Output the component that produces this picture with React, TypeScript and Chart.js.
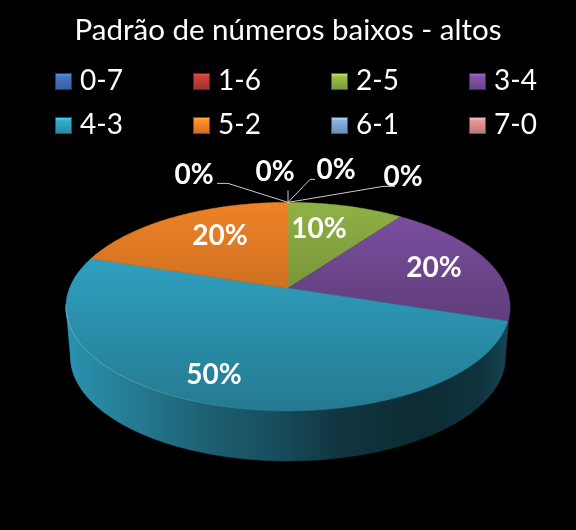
import React, { useEffect, useRef } from "react";
import { Chart, registerables } from "chart.js";

Chart.register(...registerables);

const titleText = "Padrão de números baixos - altos";
const categories = ["0-7", "1-6", "2-5", "3-4", "4-3", "5-2", "6-1", "7-0"];
const percentages = [0, 0, 10, 20, 50, 20, 0, 0];
const sliceColors = ["#3F6FB8", "#BE3A36", "#8FB144", "#7A4E9E", "#2FA0BF", "#EE8226", "#7FA3D6", "#D98C8A"];
const faceFade = [0.8, 0.8, 0.85, 0.78, 0.76, 0.87, 0.8, 0.8];

// Layout only: label offset from the pie's apex, and elbow of the leader lines.
const labelOffsets = [
  [48, -119], [115, -112], [31, -60], [146, -21], [-74, 86], [-68, -53], [-94, -114], [-13, -117],
];
const leaderPaths: (number[][] | null)[] = [
  [[22, -23], [27, -23]], [[95, -16], [107, -16]], null, null, null, null,
  [[-60, -19], [-71, -19]], [[0, -12]],
];

const PERSPECTIVE = 0.177;
const SQUASH = 101 / 218.5;
const DEPTH = 50;
const BASE_SCALE_X = 0.98;

function shade(hex: string, f: number) {
  const n = parseInt(hex.slice(1), 16);
  const c = [(n >> 16) & 255, (n >> 8) & 255, n & 255].map((v) => Math.min(255, Math.round(v * f)));
  return `rgb(${c[0]},${c[1]},${c[2]})`;
}

const tiltedPie = {
  id: "tiltedPie",
  beforeDatasetsDraw(chart: any) {
    const { ctx } = chart;
    const meta = chart.getDatasetMeta(0);
    const arcs = meta.data;
    const cx = arcs[0].x;
    const cy = arcs[0].y;
    const R = arcs[0].outerRadius;
    const H = R * SQUASH;
    const colors = chart.data.datasets[0].backgroundColor as string[];
    const values = chart.data.datasets[0].data as number[];
    const labels = chart.data.labels as string[];
    const total = values.reduce((a, b) => a + b, 0);

    const top = (t: number) => {
      const u = Math.sin(t);
      const v = -Math.cos(t);
      const w = 1 - PERSPECTIVE * v;
      return [cx + (R * u) / w, cy + (H * v) / w];
    };
    const base = (t: number) => {
      const p = top(t);
      return [cx + (p[0] - cx) * BASE_SCALE_X, p[1] + DEPTH];
    };
    const angles = (a: any) => [a.startAngle + Math.PI / 2, a.endAngle + Math.PI / 2];
    const steps = (s: number, e: number) => {
      const out: number[] = [];
      const n = Math.max(2, Math.ceil((e - s) / 0.01));
      for (let i = 0; i <= n; i++) out.push(s + ((e - s) * i) / n);
      return out;
    };

    ctx.save();

    // Side wall, between the two silhouette points of the tilted disc
    const sideStops = [
      [0, 0.92], [0.12, 0.8], [0.3, 0.62], [0.45, 0.5], [0.62, 0.33], [0.8, 0.27], [0.93, 0.32], [1, 0.45],
    ];
    const edge = Math.asin(PERSPECTIVE);
    arcs.forEach((arc: any, i: number) => {
      if (!values[i]) return;
      const [a0, a1] = angles(arc);
      const s = Math.max(a0, Math.PI * 0.5 + edge);
      const e = Math.min(a1, Math.PI * 1.5 - edge);
      if (e <= s) return;
      const ts = steps(s, e);
      const g = ctx.createLinearGradient(cx - R * 1.02, 0, cx + R * 1.02, 0);
      sideStops.forEach(([p, f]) => g.addColorStop(p, shade(colors[i], f)));
      ctx.beginPath();
      ts.forEach((t, k) => {
        const p = top(t);
        k ? ctx.lineTo(p[0], p[1]) : ctx.moveTo(p[0], p[1]);
      });
      [...ts].reverse().forEach((t) => {
        const p = base(t);
        ctx.lineTo(p[0], p[1]);
      });
      ctx.closePath();
      ctx.fillStyle = g;
      ctx.strokeStyle = g;
      ctx.lineWidth = 0.6;
      ctx.fill();
      ctx.stroke();
    });

    // Top face
    arcs.forEach((arc: any, i: number) => {
      if (!values[i]) return;
      const [a0, a1] = angles(arc);
      const pts = steps(a0, a1).map((t) => top(t));
      const ys = pts.map((p) => p[1]).concat(cy);
      const g = ctx.createLinearGradient(0, Math.min(...ys), 0, Math.max(...ys));
      g.addColorStop(0, shade(colors[i], 1));
      g.addColorStop(1, shade(colors[i], faceFade[i]));
      ctx.beginPath();
      ctx.moveTo(cx, cy);
      pts.forEach((p) => ctx.lineTo(p[0], p[1]));
      ctx.closePath();
      ctx.fillStyle = g;
      ctx.strokeStyle = g;
      ctx.lineWidth = 0.5;
      ctx.fill();
      ctx.stroke();
    });

    // Light rim along the front-left edge
    const rim = ctx.createLinearGradient(cx - R, 0, cx, 0);
    rim.addColorStop(0, "rgba(190,235,250,0.4)");
    rim.addColorStop(1, "rgba(190,235,250,0)");
    ctx.beginPath();
    steps(Math.PI, Math.PI * 1.45).forEach((t, k) => {
      const p = top(t);
      k ? ctx.lineTo(p[0], p[1]) : ctx.moveTo(p[0], p[1]);
    });
    ctx.strokeStyle = rim;
    ctx.lineWidth = 1;
    ctx.stroke();

    // Leader lines
    ctx.strokeStyle = "#c9c9c9";
    ctx.lineWidth = 1;
    const apexY = cy - H / (1 + PERSPECTIVE);
    leaderPaths.forEach((path) => {
      if (!path) return;
      ctx.beginPath();
      ctx.moveTo(cx, apexY);
      path.forEach(([dx, dy]) => ctx.lineTo(cx + dx, apexY + dy));
      ctx.stroke();
    });

    // Value labels
    ctx.fillStyle = "#ffffff";
    ctx.font = "bold 28px Lato";
    ctx.textAlign = "center";
    ctx.textBaseline = "middle";
    values.forEach((v, i) => {
      const [dx, dy] = labelOffsets[i];
      ctx.fillText(`${Math.round((v / total) * 100)}%`, cx + dx, cy + dy + 1);
    });

    // Legend
    const colX = [55, 193, 331, 469];
    const rowY = [81.5, 125.5];
    labels.forEach((label, i) => {
      const x = colX[i % 4];
      const y = rowY[Math.floor(i / 4)];
      const g = ctx.createLinearGradient(0, y - 8.5, 0, y + 8.5);
      g.addColorStop(0, shade(colors[i], 1.45));
      g.addColorStop(0.22, shade(colors[i], 1.08));
      g.addColorStop(1, shade(colors[i], 0.85));
      ctx.fillStyle = g;
      ctx.fillRect(x, y - 8.5, 17, 17);
      ctx.strokeStyle = shade(colors[i], 0.55);
      ctx.lineWidth = 1;
      ctx.strokeRect(x + 0.5, y - 8, 16, 16);
      ctx.fillStyle = "#ffffff";
      ctx.font = "28px Lato";
      ctx.textAlign = "left";
      ctx.fillText(label, x + 25, y - 0.5);
    });

    ctx.restore();
    return false;
  },
};

export default function App() {
  const ref = useRef<HTMLCanvasElement>(null);
  useEffect(() => {
    document.body.style.margin = "0";
    document.body.style.background = "#000";
    const chart = new Chart(ref.current!, {
      type: "pie",
      data: {
        labels: categories,
        datasets: [{ data: percentages, backgroundColor: sliceColors, radius: 218.5, borderWidth: 0 }],
      },
      options: {
        responsive: false,
        animation: false,
        events: [],
        layout: { padding: { bottom: 2 } },
        plugins: {
          legend: { display: false },
          tooltip: { enabled: false },
          title: {
            display: true,
            text: titleText,
            color: "#ffffff",
            font: { family: "Lato", size: 29.5, weight: "normal" },
            padding: { top: 13, bottom: 0 },
          },
        },
      },
      plugins: [tiltedPie],
    } as any);
    return () => chart.destroy();
  }, []);
  return <canvas ref={ref} width={576} height={530} style={{ display: "block" }} />;
}
